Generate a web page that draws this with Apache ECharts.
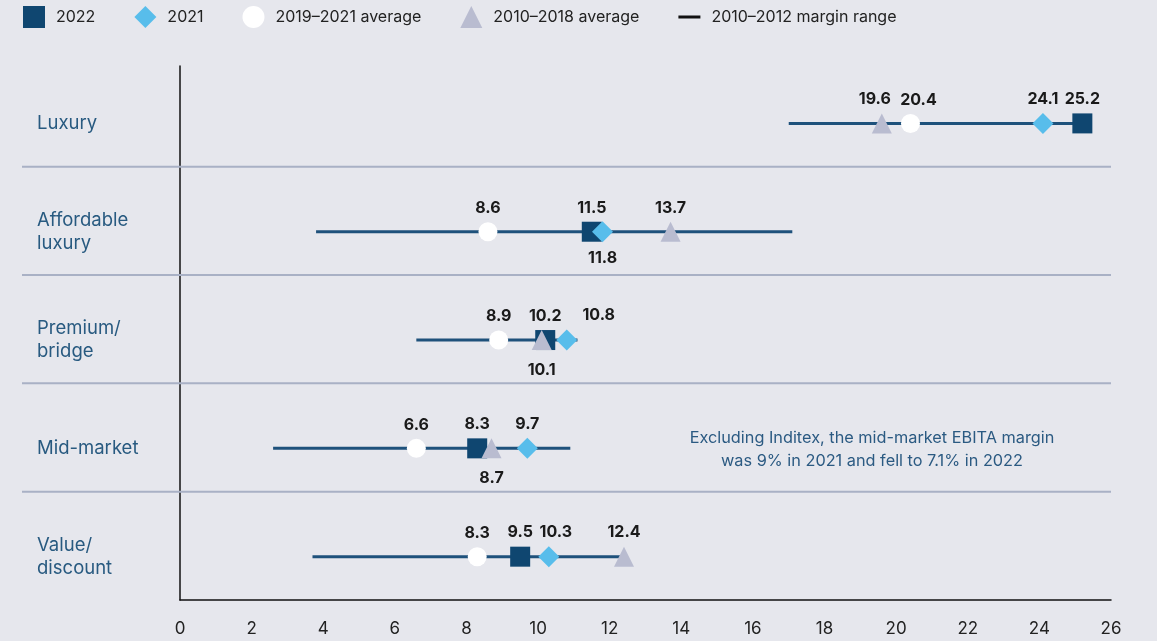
<!DOCTYPE html>
<html>
<head>
<meta charset="utf-8">
<script src="https://cdn.jsdelivr.net/npm/echarts@6/dist/echarts.min.js"></script>
<style>
  html, body { margin: 0; padding: 0; background: #e6e7ed; }
  #chart { width: 1157px; height: 641px; }
</style>
</head>
<body>
<div id="chart"></div>
<script>
// segments, top to bottom
const categories = ['Luxury', 'Affordable\nluxury', 'Premium/\nbridge', 'Mid-market', 'Value/\ndiscount'];

// EBITA margin, %
const v2022 = [25.2, 11.5, 10.2, 8.3, 9.5];
const v2021 = [24.1, 11.8, 10.8, 9.7, 10.3];
const avg2019_2021 = [20.4, 8.6, 8.9, 6.6, 8.3];
const avg2010_2018 = [19.6, 13.7, 10.1, 8.7, 12.4];

// 2010-2012 margin range (low / high)
const rangeLow = [17.0, 3.8, 6.6, 2.6, 3.7];
const rangeHigh = [25.2, 17.1, 11.1, 10.9, 12.5];

const note = 'Excluding Inditex, the mid-market EBITA margin\nwas 9% in 2021 and fell to 7.1% in 2022';

// label tweaks: which points carry the value under the marker (with distance), small side nudges
const labelBelow = { '2021': { 1: 8 }, '2010–2018 average': { 2: 12, 3: 12 } };
const labelNudge = { '2021': { 2: 32, 4: 7 }, '2010–2018 average': { 0: -7 }, '2019–2021 average': { 0: 8 } };

const FONT = 'Inter, "Noto Sans", sans-serif';
const NAVY = '#0f4670';
const LINE = '#1e517b';

const chart = echarts.init(document.getElementById('chart'));

function pointSeries(name, values, symbol, size, color) {
  return {
    name,
    type: 'scatter',
    symbol,
    symbolSize: size,
    itemStyle: { color, opacity: 1 },
    z: 3,
    data: values.map((v, i) => {
      const below = (labelBelow[name] || {})[i];
      const dx = (labelNudge[name] || {})[i] || 0;
      return {
        value: [v, i],
        label: below
          ? { position: 'bottom', distance: below, offset: [dx, 0] }
          : { position: 'top', distance: 6, offset: [dx, 0] },
      };
    }),
    label: {
      show: true,
      formatter: (p) => p.value[0].toFixed(1),
      color: '#1a1a1a',
      fontFamily: FONT,
      fontSize: 16,
      fontWeight: 'bold',
    },
    emphasis: { disabled: true },
  };
}

chart.setOption({
  backgroundColor: '#e6e7ed',
  animation: false,
  textStyle: { fontFamily: FONT },
  legend: {
    left: 23,
    top: 6,
    padding: 0,
    itemWidth: 22,
    itemHeight: 22,
    itemGap: 39,
    textStyle: { fontSize: 16, color: '#222', fontFamily: FONT, padding: [0, 0, 0, 6] },
    data: [
      { name: '2022', icon: 'rect' },
      { name: '2021', icon: 'diamond' },
      { name: '2019–2021 average', icon: 'circle' },
      { name: '2010–2018 average', icon: 'triangle' },
      { name: '2010–2012 margin range', icon: 'path://M0,0L0,0M22,22L22,22M0,9.5H22V12.5H0Z', itemStyle: { color: '#111' } },
    ],
  },
  grid: { left: 180, right: 46, top: 66, bottom: 41 },
  xAxis: {
    type: 'value',
    min: 0,
    max: 26,
    interval: 2,
    axisLine: { show: true, onZero: false, lineStyle: { color: '#111', width: 1.5 } },
    axisTick: { show: false },
    splitLine: { show: false },
    axisLabel: { margin: 20, fontSize: 17, color: '#222', fontFamily: FONT },
  },
  yAxis: {
    type: 'value',
    inverse: true,
    min: -0.53,
    max: 4.4,
    axisLine: { show: true, onZero: false, lineStyle: { color: '#111', width: 1.5 } },
    axisTick: { show: false },
    splitLine: { show: false },
    axisLabel: {
      customValues: categories.map((_, i) => i),
      formatter: (v) => categories[v] || '',
      align: 'left',
      margin: 143,
      fontSize: 18.5,
      lineHeight: 23,
      color: '#285a80',
      fontFamily: FONT,
    },
  },
  graphic: [{
    type: 'text',
    x: 872,
    y: 450,
    style: {
      text: note,
      align: 'center',
      verticalAlign: 'middle',
      fontSize: 16.3,
      lineHeight: 23,
      fontFamily: FONT,
      fill: '#2b5a82',
    },
  }],
  series: [
    {
      // separators between segments
      type: 'custom',
      silent: true,
      clip: false,
      z: 1,
      data: categories.slice(1).map((_, i) => [0, i + 0.4]),
      renderItem: (params, api) => {
        const y = api.coord([0, api.value(1)])[1];
        const cs = params.coordSys;
        return {
          type: 'line',
          shape: { x1: 22, y1: y, x2: cs.x + cs.width, y2: y },
          style: { stroke: '#a9b1c5', lineWidth: 2 },
        };
      },
    },
    {
      name: '2010–2012 margin range',
      type: 'custom',
      z: 2,
      encode: { x: [0, 1], y: 2 },
      itemStyle: { color: LINE },
      data: rangeLow.map((lo, i) => [lo, rangeHigh[i], i]),
      renderItem: (params, api) => {
        const a = api.coord([api.value(0), api.value(2)]);
        const b = api.coord([api.value(1), api.value(2)]);
        return {
          type: 'line',
          shape: { x1: a[0], y1: a[1], x2: b[0], y2: b[1] },
          style: { stroke: LINE, lineWidth: 3 },
        };
      },
    },
    pointSeries('2022', v2022, 'rect', 20, NAVY),
    pointSeries('2021', v2021, 'diamond', 21, '#58bdeb'),
    pointSeries('2019–2021 average', avg2019_2021, 'circle', 19, '#ffffff'),
    pointSeries('2010–2018 average', avg2010_2018, 'triangle', 20, '#b9bcd0'),
  ],
});
</script>
</body>
</html>
